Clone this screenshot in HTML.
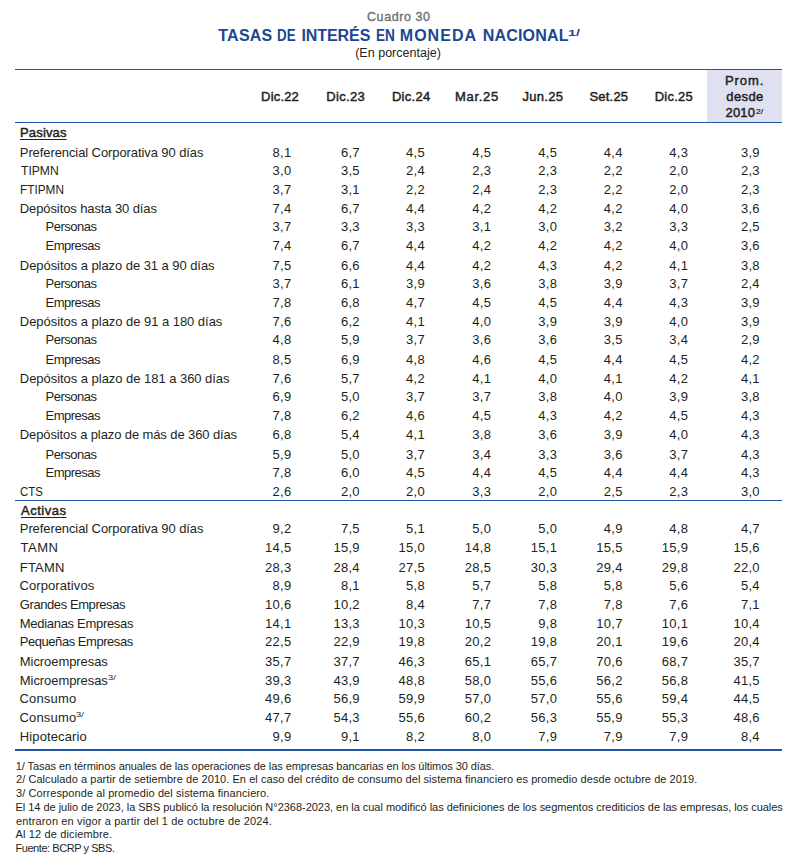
<!DOCTYPE html><html lang="es"><head><meta charset="utf-8"><title>Cuadro 30</title><style>
*{margin:0;padding:0;box-sizing:border-box}
html,body{width:800px;height:867px;background:#fff;overflow:hidden}
body{position:relative;font-family:"Liberation Sans",sans-serif;color:#231f20;font-size:13px}
.t{position:absolute;white-space:nowrap;line-height:20px;height:20px;transform-origin:0 0}
.v{text-align:right;letter-spacing:0.3px}
.b{font-weight:bold}
.u{text-decoration:underline;text-underline-offset:2px;text-decoration-thickness:1px}
.rule{position:absolute;left:15px;width:767px;background:#2155a3}
.fn{font-size:11px}
</style></head><body>
<div class="rule" style="top:68.5px;height:1.4px"></div>
<div style="position:absolute;left:707px;top:70px;width:75px;height:52px;background:#dfe1f0"></div>
<div class="rule" style="top:122px;height:1.4px"></div>
<div class="rule" style="top:500px;height:1.2px"></div>
<div class="rule" style="top:748.6px;height:2.4px"></div>
<div class="t" style="left:367.00px;top:6.57px;font-size:12.5px;letter-spacing:0.575px;color:#6d6e71;-webkit-text-stroke:0.35px #6d6e71;">Cuadro 30</div>
<div class="t b" style="left:218.25px;top:26.26px;font-size:16px;letter-spacing:0.250px;color:#1a4793;">TASAS</div>
<div class="t b" style="left:277.17px;top:26.26px;font-size:16px;transform:scaleX(0.8333);color:#1a4793;">DE</div>
<div class="t b" style="left:301.50px;top:26.26px;font-size:16px;letter-spacing:-0.083px;color:#1a4793;">INTERÉS</div>
<div class="t b" style="left:375.90px;top:26.26px;font-size:16px;transform:scaleX(0.8500);color:#1a4793;">EN</div>
<div class="t b" style="left:399.75px;top:26.26px;font-size:16px;letter-spacing:1.050px;color:#1a4793;">MONEDA</div>
<div class="t b" style="left:482.75px;top:26.26px;font-size:16px;letter-spacing:0.179px;color:#1a4793;">NACIONAL</div>
<div class="t b" style="left:568.29px;top:23.11px;font-size:9.5px;transform:scaleX(1.5143);color:#1a4793;">1/</div>
<div class="t" style="left:355.20px;top:43.37px;font-size:12.5px;letter-spacing:0.014px;">(En porcentaje)</div>
<div class="t" style="left:261.10px;top:86.60px;letter-spacing:0.180px;-webkit-text-stroke:0.45px #231f20;">Dic.22</div>
<div class="t" style="left:326.20px;top:86.60px;letter-spacing:0.360px;-webkit-text-stroke:0.45px #231f20;">Dic.23</div>
<div class="t" style="left:391.90px;top:86.60px;letter-spacing:0.300px;-webkit-text-stroke:0.45px #231f20;">Dic.24</div>
<div class="t" style="left:455.00px;top:86.60px;letter-spacing:0.700px;-webkit-text-stroke:0.45px #231f20;">Mar.25</div>
<div class="t" style="left:522.50px;top:86.60px;letter-spacing:0.300px;-webkit-text-stroke:0.45px #231f20;">Jun.25</div>
<div class="t" style="left:589.50px;top:86.60px;letter-spacing:0.200px;-webkit-text-stroke:0.45px #231f20;">Set.25</div>
<div class="t" style="left:654.70px;top:86.60px;letter-spacing:0.260px;-webkit-text-stroke:0.45px #231f20;">Dic.25</div>
<div class="t" style="left:725.00px;top:70.70px;letter-spacing:0.900px;-webkit-text-stroke:0.45px #231f20;">Prom.</div>
<div class="t" style="left:726.25px;top:86.60px;letter-spacing:0.412px;-webkit-text-stroke:0.45px #231f20;">desde</div>
<div class="t" style="left:725.60px;top:102.50px;letter-spacing:0.133px;-webkit-text-stroke:0.45px #231f20;">2010</div>
<div class="t" style="left:755.50px;top:101.57px;font-size:7px;transform:scaleX(1.2167);-webkit-text-stroke:0.2px #231f20;">2/</div>
<div class="t u" style="left:20.00px;top:122.70px;letter-spacing:0.167px;-webkit-text-stroke:0.45px #231f20;">Pasivas</div>
<div class="t u" style="left:21.00px;top:500.50px;letter-spacing:0.500px;-webkit-text-stroke:0.45px #231f20;">Activas</div>
<div class="t" style="left:19.80px;top:142.50px;letter-spacing:-0.090px;">Preferencial Corporativa 90 días</div>
<div class="t" style="left:20.50px;top:160.50px;transform:scaleX(0.9325);">TIPMN</div>
<div class="t" style="left:19.89px;top:179.50px;transform:scaleX(0.9085);">FTIPMN</div>
<div class="t" style="left:19.80px;top:198.50px;letter-spacing:-0.105px;">Depósitos hasta 30 días</div>
<div class="t" style="left:45.60px;top:216.50px;letter-spacing:-0.514px;">Personas</div>
<div class="t" style="left:45.60px;top:235.50px;letter-spacing:-0.514px;">Empresas</div>
<div class="t" style="left:19.80px;top:255.50px;letter-spacing:-0.056px;">Depósitos a plazo de 31 a 90 días</div>
<div class="t" style="left:45.60px;top:273.50px;letter-spacing:-0.514px;">Personas</div>
<div class="t" style="left:45.60px;top:292.50px;letter-spacing:-0.514px;">Empresas</div>
<div class="t" style="left:19.80px;top:311.50px;letter-spacing:-0.039px;">Depósitos a plazo de 91 a 180 días</div>
<div class="t" style="left:45.60px;top:329.50px;letter-spacing:-0.514px;">Personas</div>
<div class="t" style="left:45.60px;top:349.50px;letter-spacing:-0.514px;">Empresas</div>
<div class="t" style="left:19.80px;top:368.50px;letter-spacing:-0.038px;">Depósitos a plazo de 181 a 360 días</div>
<div class="t" style="left:45.60px;top:386.50px;letter-spacing:-0.514px;">Personas</div>
<div class="t" style="left:45.60px;top:405.50px;letter-spacing:-0.514px;">Empresas</div>
<div class="t" style="left:19.80px;top:424.50px;letter-spacing:-0.109px;">Depósitos a plazo de más de 360 días</div>
<div class="t" style="left:45.60px;top:444.50px;letter-spacing:-0.514px;">Personas</div>
<div class="t" style="left:45.60px;top:462.50px;letter-spacing:-0.514px;">Empresas</div>
<div class="t" style="left:19.62px;top:481.50px;transform:scaleX(0.8800);">CTS</div>
<div class="t" style="left:19.80px;top:518.50px;letter-spacing:-0.090px;">Preferencial Corporativa 90 días</div>
<div class="t" style="left:20.50px;top:537.50px;letter-spacing:0.500px;">TAMN</div>
<div class="t" style="left:19.80px;top:557.50px;letter-spacing:0.175px;">FTAMN</div>
<div class="t" style="left:19.50px;top:575.50px;letter-spacing:0.091px;">Corporativos</div>
<div class="t" style="left:19.80px;top:594.50px;letter-spacing:-0.420px;">Grandes Empresas</div>
<div class="t" style="left:19.80px;top:613.50px;letter-spacing:-0.300px;">Medianas Empresas</div>
<div class="t" style="left:19.80px;top:631.50px;letter-spacing:-0.456px;">Pequeñas Empresas</div>
<div class="t" style="left:19.80px;top:651.50px;letter-spacing:-0.067px;">Microempresas</div>
<div class="t" style="left:19.80px;top:670.50px;letter-spacing:-0.067px;">Microempresas</div>
<div class="t" style="left:19.50px;top:688.50px;letter-spacing:0.167px;">Consumo</div>
<div class="t" style="left:19.50px;top:707.50px;letter-spacing:0.167px;">Consumo</div>
<div class="t" style="left:19.80px;top:726.50px;letter-spacing:0.120px;">Hipotecario</div>
<div class="t" style="left:107.60px;top:668.05px;font-size:6.5px;transform:scaleX(1.4400);">3/</div>
<div class="t" style="left:76.10px;top:705.35px;font-size:6.5px;transform:scaleX(1.4400);">3/</div>
<div class="t" style="left:15.75px;top:756.19px;font-size:11px;letter-spacing:-0.070px;">1/ Tasas en términos anuales de las operaciones de las empresas bancarias en los últimos 30 días.</div>
<div class="t" style="left:16.00px;top:769.39px;font-size:11px;letter-spacing:0.056px;">2/ Calculado a partir de setiembre de 2010. En el caso del crédito de consumo del sistema financiero es promedio desde octubre de 2019.</div>
<div class="t" style="left:16.00px;top:783.19px;font-size:11px;letter-spacing:0.092px;">3/ Corresponde al promedio del sistema financiero.</div>
<div class="t" style="left:15.50px;top:797.19px;font-size:11px;letter-spacing:-0.028px;">El 14 de julio de 2023, la SBS publicó la resolución N°2368-2023, en la cual modificó las definiciones de los segmentos crediticios de las empresas, los cuales</div>
<div class="t" style="left:16.00px;top:811.19px;font-size:11px;letter-spacing:0.147px;">entraron en vigor a partir del 1 de octubre de 2024.</div>
<div class="t" style="left:15.50px;top:824.39px;font-size:11px;letter-spacing:0.139px;">Al 12 de diciembre.</div>
<div class="t" style="left:15.50px;top:838.19px;font-size:11px;letter-spacing:-0.444px;">Fuente: BCRP y SBS.</div>
<div class="t v" style="right:508.5px;top:142.50px">8,1</div>
<div class="t v" style="right:440.1px;top:142.50px">6,7</div>
<div class="t v" style="right:375.0px;top:142.50px">4,5</div>
<div class="t v" style="right:308.7px;top:142.50px">4,5</div>
<div class="t v" style="right:242.7px;top:142.50px">4,5</div>
<div class="t v" style="right:177.2px;top:142.50px">4,4</div>
<div class="t v" style="right:111.7px;top:142.50px">4,3</div>
<div class="t v" style="right:40.1px;top:142.50px">3,9</div>
<div class="t v" style="right:508.5px;top:160.50px">3,0</div>
<div class="t v" style="right:440.1px;top:160.50px">3,5</div>
<div class="t v" style="right:375.0px;top:160.50px">2,4</div>
<div class="t v" style="right:308.7px;top:160.50px">2,3</div>
<div class="t v" style="right:242.7px;top:160.50px">2,3</div>
<div class="t v" style="right:177.2px;top:160.50px">2,2</div>
<div class="t v" style="right:111.7px;top:160.50px">2,0</div>
<div class="t v" style="right:40.1px;top:160.50px">2,3</div>
<div class="t v" style="right:508.5px;top:179.50px">3,7</div>
<div class="t v" style="right:440.1px;top:179.50px">3,1</div>
<div class="t v" style="right:375.0px;top:179.50px">2,2</div>
<div class="t v" style="right:308.7px;top:179.50px">2,4</div>
<div class="t v" style="right:242.7px;top:179.50px">2,3</div>
<div class="t v" style="right:177.2px;top:179.50px">2,2</div>
<div class="t v" style="right:111.7px;top:179.50px">2,0</div>
<div class="t v" style="right:40.1px;top:179.50px">2,3</div>
<div class="t v" style="right:508.5px;top:198.50px">7,4</div>
<div class="t v" style="right:440.1px;top:198.50px">6,7</div>
<div class="t v" style="right:375.0px;top:198.50px">4,4</div>
<div class="t v" style="right:308.7px;top:198.50px">4,2</div>
<div class="t v" style="right:242.7px;top:198.50px">4,2</div>
<div class="t v" style="right:177.2px;top:198.50px">4,2</div>
<div class="t v" style="right:111.7px;top:198.50px">4,0</div>
<div class="t v" style="right:40.1px;top:198.50px">3,6</div>
<div class="t v" style="right:508.5px;top:216.50px">3,7</div>
<div class="t v" style="right:440.1px;top:216.50px">3,3</div>
<div class="t v" style="right:375.0px;top:216.50px">3,3</div>
<div class="t v" style="right:308.7px;top:216.50px">3,1</div>
<div class="t v" style="right:242.7px;top:216.50px">3,0</div>
<div class="t v" style="right:177.2px;top:216.50px">3,2</div>
<div class="t v" style="right:111.7px;top:216.50px">3,3</div>
<div class="t v" style="right:40.1px;top:216.50px">2,5</div>
<div class="t v" style="right:508.5px;top:235.50px">7,4</div>
<div class="t v" style="right:440.1px;top:235.50px">6,7</div>
<div class="t v" style="right:375.0px;top:235.50px">4,4</div>
<div class="t v" style="right:308.7px;top:235.50px">4,2</div>
<div class="t v" style="right:242.7px;top:235.50px">4,2</div>
<div class="t v" style="right:177.2px;top:235.50px">4,2</div>
<div class="t v" style="right:111.7px;top:235.50px">4,0</div>
<div class="t v" style="right:40.1px;top:235.50px">3,6</div>
<div class="t v" style="right:508.5px;top:255.50px">7,5</div>
<div class="t v" style="right:440.1px;top:255.50px">6,6</div>
<div class="t v" style="right:375.0px;top:255.50px">4,4</div>
<div class="t v" style="right:308.7px;top:255.50px">4,2</div>
<div class="t v" style="right:242.7px;top:255.50px">4,3</div>
<div class="t v" style="right:177.2px;top:255.50px">4,2</div>
<div class="t v" style="right:111.7px;top:255.50px">4,1</div>
<div class="t v" style="right:40.1px;top:255.50px">3,8</div>
<div class="t v" style="right:508.5px;top:273.50px">3,7</div>
<div class="t v" style="right:440.1px;top:273.50px">6,1</div>
<div class="t v" style="right:375.0px;top:273.50px">3,9</div>
<div class="t v" style="right:308.7px;top:273.50px">3,6</div>
<div class="t v" style="right:242.7px;top:273.50px">3,8</div>
<div class="t v" style="right:177.2px;top:273.50px">3,9</div>
<div class="t v" style="right:111.7px;top:273.50px">3,7</div>
<div class="t v" style="right:40.1px;top:273.50px">2,4</div>
<div class="t v" style="right:508.5px;top:292.50px">7,8</div>
<div class="t v" style="right:440.1px;top:292.50px">6,8</div>
<div class="t v" style="right:375.0px;top:292.50px">4,7</div>
<div class="t v" style="right:308.7px;top:292.50px">4,5</div>
<div class="t v" style="right:242.7px;top:292.50px">4,5</div>
<div class="t v" style="right:177.2px;top:292.50px">4,4</div>
<div class="t v" style="right:111.7px;top:292.50px">4,3</div>
<div class="t v" style="right:40.1px;top:292.50px">3,9</div>
<div class="t v" style="right:508.5px;top:311.50px">7,6</div>
<div class="t v" style="right:440.1px;top:311.50px">6,2</div>
<div class="t v" style="right:375.0px;top:311.50px">4,1</div>
<div class="t v" style="right:308.7px;top:311.50px">4,0</div>
<div class="t v" style="right:242.7px;top:311.50px">3,9</div>
<div class="t v" style="right:177.2px;top:311.50px">3,9</div>
<div class="t v" style="right:111.7px;top:311.50px">4,0</div>
<div class="t v" style="right:40.1px;top:311.50px">3,9</div>
<div class="t v" style="right:508.5px;top:329.50px">4,8</div>
<div class="t v" style="right:440.1px;top:329.50px">5,9</div>
<div class="t v" style="right:375.0px;top:329.50px">3,7</div>
<div class="t v" style="right:308.7px;top:329.50px">3,6</div>
<div class="t v" style="right:242.7px;top:329.50px">3,6</div>
<div class="t v" style="right:177.2px;top:329.50px">3,5</div>
<div class="t v" style="right:111.7px;top:329.50px">3,4</div>
<div class="t v" style="right:40.1px;top:329.50px">2,9</div>
<div class="t v" style="right:508.5px;top:349.50px">8,5</div>
<div class="t v" style="right:440.1px;top:349.50px">6,9</div>
<div class="t v" style="right:375.0px;top:349.50px">4,8</div>
<div class="t v" style="right:308.7px;top:349.50px">4,6</div>
<div class="t v" style="right:242.7px;top:349.50px">4,5</div>
<div class="t v" style="right:177.2px;top:349.50px">4,4</div>
<div class="t v" style="right:111.7px;top:349.50px">4,5</div>
<div class="t v" style="right:40.1px;top:349.50px">4,2</div>
<div class="t v" style="right:508.5px;top:368.50px">7,6</div>
<div class="t v" style="right:440.1px;top:368.50px">5,7</div>
<div class="t v" style="right:375.0px;top:368.50px">4,2</div>
<div class="t v" style="right:308.7px;top:368.50px">4,1</div>
<div class="t v" style="right:242.7px;top:368.50px">4,0</div>
<div class="t v" style="right:177.2px;top:368.50px">4,1</div>
<div class="t v" style="right:111.7px;top:368.50px">4,2</div>
<div class="t v" style="right:40.1px;top:368.50px">4,1</div>
<div class="t v" style="right:508.5px;top:386.50px">6,9</div>
<div class="t v" style="right:440.1px;top:386.50px">5,0</div>
<div class="t v" style="right:375.0px;top:386.50px">3,7</div>
<div class="t v" style="right:308.7px;top:386.50px">3,7</div>
<div class="t v" style="right:242.7px;top:386.50px">3,8</div>
<div class="t v" style="right:177.2px;top:386.50px">4,0</div>
<div class="t v" style="right:111.7px;top:386.50px">3,9</div>
<div class="t v" style="right:40.1px;top:386.50px">3,8</div>
<div class="t v" style="right:508.5px;top:405.50px">7,8</div>
<div class="t v" style="right:440.1px;top:405.50px">6,2</div>
<div class="t v" style="right:375.0px;top:405.50px">4,6</div>
<div class="t v" style="right:308.7px;top:405.50px">4,5</div>
<div class="t v" style="right:242.7px;top:405.50px">4,3</div>
<div class="t v" style="right:177.2px;top:405.50px">4,2</div>
<div class="t v" style="right:111.7px;top:405.50px">4,5</div>
<div class="t v" style="right:40.1px;top:405.50px">4,3</div>
<div class="t v" style="right:508.5px;top:424.50px">6,8</div>
<div class="t v" style="right:440.1px;top:424.50px">5,4</div>
<div class="t v" style="right:375.0px;top:424.50px">4,1</div>
<div class="t v" style="right:308.7px;top:424.50px">3,8</div>
<div class="t v" style="right:242.7px;top:424.50px">3,6</div>
<div class="t v" style="right:177.2px;top:424.50px">3,9</div>
<div class="t v" style="right:111.7px;top:424.50px">4,0</div>
<div class="t v" style="right:40.1px;top:424.50px">4,3</div>
<div class="t v" style="right:508.5px;top:444.50px">5,9</div>
<div class="t v" style="right:440.1px;top:444.50px">5,0</div>
<div class="t v" style="right:375.0px;top:444.50px">3,7</div>
<div class="t v" style="right:308.7px;top:444.50px">3,4</div>
<div class="t v" style="right:242.7px;top:444.50px">3,3</div>
<div class="t v" style="right:177.2px;top:444.50px">3,6</div>
<div class="t v" style="right:111.7px;top:444.50px">3,7</div>
<div class="t v" style="right:40.1px;top:444.50px">4,3</div>
<div class="t v" style="right:508.5px;top:462.50px">7,8</div>
<div class="t v" style="right:440.1px;top:462.50px">6,0</div>
<div class="t v" style="right:375.0px;top:462.50px">4,5</div>
<div class="t v" style="right:308.7px;top:462.50px">4,4</div>
<div class="t v" style="right:242.7px;top:462.50px">4,5</div>
<div class="t v" style="right:177.2px;top:462.50px">4,4</div>
<div class="t v" style="right:111.7px;top:462.50px">4,4</div>
<div class="t v" style="right:40.1px;top:462.50px">4,3</div>
<div class="t v" style="right:508.5px;top:481.50px">2,6</div>
<div class="t v" style="right:440.1px;top:481.50px">2,0</div>
<div class="t v" style="right:375.0px;top:481.50px">2,0</div>
<div class="t v" style="right:308.7px;top:481.50px">3,3</div>
<div class="t v" style="right:242.7px;top:481.50px">2,0</div>
<div class="t v" style="right:177.2px;top:481.50px">2,5</div>
<div class="t v" style="right:111.7px;top:481.50px">2,3</div>
<div class="t v" style="right:40.1px;top:481.50px">3,0</div>
<div class="t v" style="right:508.5px;top:518.50px">9,2</div>
<div class="t v" style="right:440.1px;top:518.50px">7,5</div>
<div class="t v" style="right:375.0px;top:518.50px">5,1</div>
<div class="t v" style="right:308.7px;top:518.50px">5,0</div>
<div class="t v" style="right:242.7px;top:518.50px">5,0</div>
<div class="t v" style="right:177.2px;top:518.50px">4,9</div>
<div class="t v" style="right:111.7px;top:518.50px">4,8</div>
<div class="t v" style="right:40.1px;top:518.50px">4,7</div>
<div class="t v" style="right:508.5px;top:537.50px">14,5</div>
<div class="t v" style="right:440.1px;top:537.50px">15,9</div>
<div class="t v" style="right:375.0px;top:537.50px">15,0</div>
<div class="t v" style="right:308.7px;top:537.50px">14,8</div>
<div class="t v" style="right:242.7px;top:537.50px">15,1</div>
<div class="t v" style="right:177.2px;top:537.50px">15,5</div>
<div class="t v" style="right:111.7px;top:537.50px">15,9</div>
<div class="t v" style="right:40.1px;top:537.50px">15,6</div>
<div class="t v" style="right:508.5px;top:557.50px">28,3</div>
<div class="t v" style="right:440.1px;top:557.50px">28,4</div>
<div class="t v" style="right:375.0px;top:557.50px">27,5</div>
<div class="t v" style="right:308.7px;top:557.50px">28,5</div>
<div class="t v" style="right:242.7px;top:557.50px">30,3</div>
<div class="t v" style="right:177.2px;top:557.50px">29,4</div>
<div class="t v" style="right:111.7px;top:557.50px">29,8</div>
<div class="t v" style="right:40.1px;top:557.50px">22,0</div>
<div class="t v" style="right:508.5px;top:575.50px">8,9</div>
<div class="t v" style="right:440.1px;top:575.50px">8,1</div>
<div class="t v" style="right:375.0px;top:575.50px">5,8</div>
<div class="t v" style="right:308.7px;top:575.50px">5,7</div>
<div class="t v" style="right:242.7px;top:575.50px">5,8</div>
<div class="t v" style="right:177.2px;top:575.50px">5,8</div>
<div class="t v" style="right:111.7px;top:575.50px">5,6</div>
<div class="t v" style="right:40.1px;top:575.50px">5,4</div>
<div class="t v" style="right:508.5px;top:594.50px">10,6</div>
<div class="t v" style="right:440.1px;top:594.50px">10,2</div>
<div class="t v" style="right:375.0px;top:594.50px">8,4</div>
<div class="t v" style="right:308.7px;top:594.50px">7,7</div>
<div class="t v" style="right:242.7px;top:594.50px">7,8</div>
<div class="t v" style="right:177.2px;top:594.50px">7,8</div>
<div class="t v" style="right:111.7px;top:594.50px">7,6</div>
<div class="t v" style="right:40.1px;top:594.50px">7,1</div>
<div class="t v" style="right:508.5px;top:613.50px">14,1</div>
<div class="t v" style="right:440.1px;top:613.50px">13,3</div>
<div class="t v" style="right:375.0px;top:613.50px">10,3</div>
<div class="t v" style="right:308.7px;top:613.50px">10,5</div>
<div class="t v" style="right:242.7px;top:613.50px">9,8</div>
<div class="t v" style="right:177.2px;top:613.50px">10,7</div>
<div class="t v" style="right:111.7px;top:613.50px">10,1</div>
<div class="t v" style="right:40.1px;top:613.50px">10,4</div>
<div class="t v" style="right:508.5px;top:631.50px">22,5</div>
<div class="t v" style="right:440.1px;top:631.50px">22,9</div>
<div class="t v" style="right:375.0px;top:631.50px">19,8</div>
<div class="t v" style="right:308.7px;top:631.50px">20,2</div>
<div class="t v" style="right:242.7px;top:631.50px">19,8</div>
<div class="t v" style="right:177.2px;top:631.50px">20,1</div>
<div class="t v" style="right:111.7px;top:631.50px">19,6</div>
<div class="t v" style="right:40.1px;top:631.50px">20,4</div>
<div class="t v" style="right:508.5px;top:651.50px">35,7</div>
<div class="t v" style="right:440.1px;top:651.50px">37,7</div>
<div class="t v" style="right:375.0px;top:651.50px">46,3</div>
<div class="t v" style="right:308.7px;top:651.50px">65,1</div>
<div class="t v" style="right:242.7px;top:651.50px">65,7</div>
<div class="t v" style="right:177.2px;top:651.50px">70,6</div>
<div class="t v" style="right:111.7px;top:651.50px">68,7</div>
<div class="t v" style="right:40.1px;top:651.50px">35,7</div>
<div class="t v" style="right:508.5px;top:670.50px">39,3</div>
<div class="t v" style="right:440.1px;top:670.50px">43,9</div>
<div class="t v" style="right:375.0px;top:670.50px">48,8</div>
<div class="t v" style="right:308.7px;top:670.50px">58,0</div>
<div class="t v" style="right:242.7px;top:670.50px">55,6</div>
<div class="t v" style="right:177.2px;top:670.50px">56,2</div>
<div class="t v" style="right:111.7px;top:670.50px">56,8</div>
<div class="t v" style="right:40.1px;top:670.50px">41,5</div>
<div class="t v" style="right:508.5px;top:688.50px">49,6</div>
<div class="t v" style="right:440.1px;top:688.50px">56,9</div>
<div class="t v" style="right:375.0px;top:688.50px">59,9</div>
<div class="t v" style="right:308.7px;top:688.50px">57,0</div>
<div class="t v" style="right:242.7px;top:688.50px">57,0</div>
<div class="t v" style="right:177.2px;top:688.50px">55,6</div>
<div class="t v" style="right:111.7px;top:688.50px">59,4</div>
<div class="t v" style="right:40.1px;top:688.50px">44,5</div>
<div class="t v" style="right:508.5px;top:707.50px">47,7</div>
<div class="t v" style="right:440.1px;top:707.50px">54,3</div>
<div class="t v" style="right:375.0px;top:707.50px">55,6</div>
<div class="t v" style="right:308.7px;top:707.50px">60,2</div>
<div class="t v" style="right:242.7px;top:707.50px">56,3</div>
<div class="t v" style="right:177.2px;top:707.50px">55,9</div>
<div class="t v" style="right:111.7px;top:707.50px">55,3</div>
<div class="t v" style="right:40.1px;top:707.50px">48,6</div>
<div class="t v" style="right:508.5px;top:726.50px">9,9</div>
<div class="t v" style="right:440.1px;top:726.50px">9,1</div>
<div class="t v" style="right:375.0px;top:726.50px">8,2</div>
<div class="t v" style="right:308.7px;top:726.50px">8,0</div>
<div class="t v" style="right:242.7px;top:726.50px">7,9</div>
<div class="t v" style="right:177.2px;top:726.50px">7,9</div>
<div class="t v" style="right:111.7px;top:726.50px">7,9</div>
<div class="t v" style="right:40.1px;top:726.50px">8,4</div>
</body></html>
